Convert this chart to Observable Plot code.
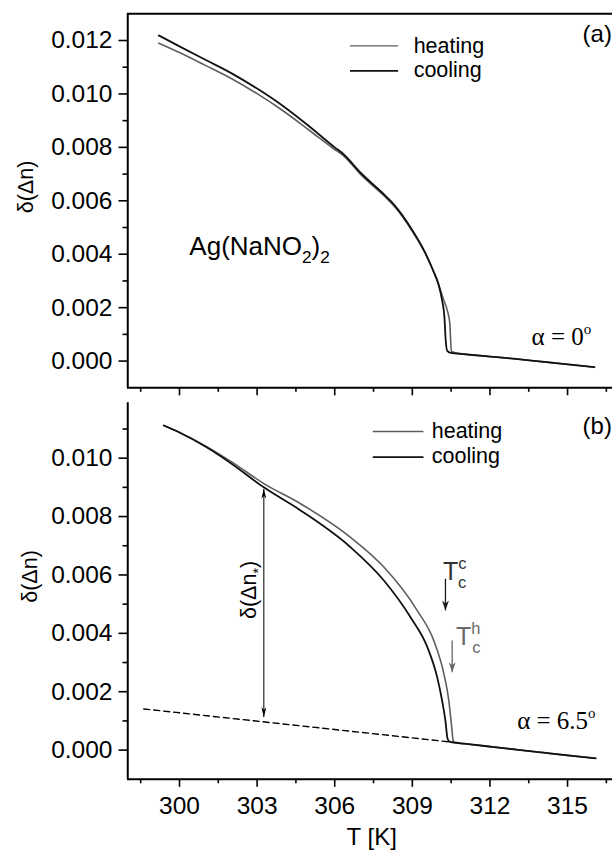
<!DOCTYPE html>
<html><head><meta charset="utf-8">
<script src="https://cdn.jsdelivr.net/npm/d3@7"></script>
<script src="https://cdn.jsdelivr.net/npm/@observablehq/plot@0.6"></script>
<style>
html,body{margin:0;padding:0;background:#fff;overflow:hidden}
#wrap{position:relative;width:612px;height:851px;background:#fff}
#wrap svg{position:absolute;left:0}
</style></head><body><div id="wrap"></div>
<script>
// ---------- data ----------
const xDomain = [298, 317];
const xMajor = [300, 303, 306, 309, 312, 315];
const xMinor = [298.5, 301.5, 304.5, 307.5, 310.5, 313.5, 316.5];

const yDomainA = [-0.001, 0.013];
const yMajorA = [0, 0.002, 0.004, 0.006, 0.008, 0.010, 0.012];
const yMinorA = [0.001, 0.003, 0.005, 0.007, 0.009, 0.011];
const yDomainB = [-0.001, 0.0119];
const yMajorB = [0, 0.002, 0.004, 0.006, 0.008, 0.010];
const yMinorB = [0.001, 0.003, 0.005, 0.007, 0.009, 0.011];

// panel (a), alpha = 0
const coolA_T = [299.2, 300.0, 301.0, 302.0, 303.0, 304.0, 305.0, 306.0, 306.3, 307.0, 308.0, 308.3, 309.0, 309.5, 309.8, 310.0, 310.15, 310.24, 310.29, 310.35, 310.48, 311.0, 312.0, 313.0, 314.0, 315.0, 316.04];
const coolA_v = [0.01219, 0.01178, 0.01128, 0.01078, 0.01020, 0.00955, 0.00880, 0.00800, 0.00778, 0.00705, 0.00615, 0.00585, 0.00490, 0.00405, 0.00340, 0.00290, 0.00228, 0.00165, 0.00078, 0.00038, 0.00031, 0.00026, 0.00017, 0.00008, -0.00002, -0.00012, -0.00023];
const heatA_T = [299.2, 300.0, 301.0, 302.0, 303.0, 304.0, 305.0, 306.0, 306.3, 307.0, 308.0, 308.3, 309.0, 309.5, 309.8, 310.0, 310.2, 310.35, 310.45, 310.48, 310.51, 311.0, 312.0, 313.0, 314.0, 315.0, 316.04];
const heatA_v = [0.01190, 0.01155, 0.01107, 0.01058, 0.01001, 0.00937, 0.00865, 0.00792, 0.00772, 0.00699, 0.00610, 0.00580, 0.00486, 0.00403, 0.00340, 0.00292, 0.00232, 0.00190, 0.00140, 0.00078, 0.00036, 0.00026, 0.00017, 0.00008, -0.00002, -0.00012, -0.00023];

// panel (b), alpha = 6.5
const coolB_T = [299.39, 300.0, 301.0, 302.0, 303.26, 304.68, 306.61, 307.9, 308.93, 309.58, 309.96, 310.15, 310.28, 310.36, 310.45, 310.6, 311.0, 312.0, 313.0, 314.0, 315.0, 316.09];
const coolB_v = [0.01112, 0.01088, 0.01040, 0.00982, 0.00900, 0.00821, 0.00695, 0.00581, 0.00455, 0.00353, 0.00250, 0.00170, 0.00100, 0.00040, 0.00028, 0.00026, 0.00022, 0.00012, 0.00002, -0.00008, -0.00018, -0.00028];
const heatB_T = [299.39, 300.0, 301.0, 302.0, 303.26, 304.68, 306.61, 307.9, 309.19, 309.83, 310.22, 310.41, 310.52, 310.58, 310.62, 311.0, 312.0, 313.0, 314.0, 315.0, 316.09];
const heatB_v = [0.01112, 0.01088, 0.01042, 0.00988, 0.00913, 0.00844, 0.00729, 0.00627, 0.00478, 0.00375, 0.00261, 0.00170, 0.00080, 0.00032, 0.00026, 0.00022, 0.00012, 0.00002, -0.00008, -0.00018, -0.00028];

// dashed baseline in (b)
const dash_T = [298.62, 310.55];
const dash_v = [0.00141, 0.00027];

// annotation arrows in (b): [T, vFrom, vTo]
const dblArrow = [303.26, 0.00113, 0.00895];
const tccArrow = [310.28, 0.005868, 0.004783];
const tchArrow = [310.54, 0.003755, 0.002669];

// legend
const seriesNames = ["heating", "cooling"];
const seriesColors = ["#5e5e5e", "#111111"];
const legendA = {T1: 306.61, T2: 308.47, Ttext: 309.07, vLine: [0.011801, 0.010864], vText: [0.011527, 0.010601]};
const legendB = {T1: 307.49, T2: 309.45, Ttext: 309.77, vLine: [0.010915, 0.010034], vText: [0.010675, 0.009808]};

// ---------- helpers ----------
const FONT = '"Liberation Sans", Arial, Helvetica, sans-serif';
const SERIF = '"Liberation Serif", "Times New Roman", serif';
const rows = (T, v) => T.map((t, i) => ({T: t, v: v[i]}));

function head(w, l) {
  return (color) => {
    const m = d3.create("svg:marker")
      .attr("viewBox", `${-l} ${-w / 2} ${l} ${w}`)
      .attr("markerWidth", l).attr("markerHeight", w)
      .attr("markerUnits", "userSpaceOnUse")
      .attr("orient", "auto-start-reverse")
      .attr("fill", color).attr("stroke", "none");
    m.append("path").attr("d", `M${-l},${-w / 2}L0,0L${-l},${w / 2}L${-l * 0.7},0Z`);
    return m.node();
  };
}

function richText(svg, x, y, parts, o) {
  const {size, family = FONT, fill = "#000", anchor = "start", rotate = 0, sub = 0.66} = o;
  const t = d3.select(svg).append("text")
    .attr("x", x).attr("y", y)
    .attr("font-family", family).attr("font-size", size)
    .attr("fill", fill).attr("text-anchor", anchor);
  if (rotate) t.attr("transform", `rotate(${rotate} ${x} ${y})`);
  let cur = 0;
  for (const [s, kind = "n", back = 0] of parts) {
    const off = kind === "sub" ? size * 0.33 : kind === "sup" ? -size * 0.45 : 0;
    const ts = t.append("tspan").text(s).attr("dy", off - cur);
    if (back) ts.attr("dx", back);
    if (kind !== "n") ts.attr("font-size", size * sub);
    cur = off;
  }
  return t;
}

const TICK_FONT = 24.5;

function panel({height, marginTop, marginBottom, yDomain, yMajor, yMinor, heat, cool, xLabels, topBorder, extra = []}) {
  return Plot.plot({
    width: 612, height, marginLeft: 127, marginRight: 0, marginTop, marginBottom,
    style: {fontFamily: FONT, background: "white", color: "#000"},
    x: {domain: xDomain, range: [127.25, 618.8]},
    y: {domain: yDomain, range: [height - marginBottom, marginTop]},
    marks: [
      Plot.axisX(xMajor, {tickSize: 8, tickPadding: 9, fontSize: TICK_FONT, strokeWidth: 1.6, label: null,
        tickFormat: xLabels ? (d => String(d)) : (() => "")}),
      Plot.axisX(xMinor, {tickSize: 4.5, strokeWidth: 1.6, label: null, tickFormat: () => ""}),
      Plot.axisY(yMajor, {tickSize: 8.5, tickPadding: 6.5, fontSize: TICK_FONT, strokeWidth: 1.6, label: null,
        tickFormat: d3.format(".3f")}),
      Plot.axisY(yMinor, {tickSize: 4.5, strokeWidth: 1.6, label: null, tickFormat: () => ""}),
      Plot.ruleX([xDomain[0]], {stroke: "#000", strokeWidth: 2}),
      Plot.ruleY([yDomain[0]], {stroke: "#000", strokeWidth: 2}),
      topBorder ? Plot.ruleY([yDomain[1]], {stroke: "#000", strokeWidth: 2}) : null,
      ...extra,
      Plot.line(heat, {x: "T", y: "v", stroke: seriesColors[0], strokeWidth: 1.6, curve: "monotone-x"}),
      Plot.line(cool, {x: "T", y: "v", stroke: seriesColors[1], strokeWidth: 1.8, curve: "monotone-x"})
    ]
  });
}

function legendMarks(L) {
  return seriesNames.map((name, i) =>
    Plot.ruleY([L.vLine[i]], {x1: L.T1, x2: L.T2, stroke: seriesColors[i], strokeWidth: i ? 1.8 : 1.4})
  );
}

function legendText(svg, sx, sy, L) {
  seriesNames.forEach((name, i) => {
    richText(svg, sx.apply(L.Ttext), sy.apply(L.vText[i]), [[name]], {size: 21.5});
  });
}

const wrap = document.getElementById("wrap");

// ---------- panel (a) ----------
const hA = 398;
const chartA = panel({
  height: hA, marginTop: 13.3, marginBottom: hA - 387.3,
  yDomain: yDomainA, yMajor: yMajorA, yMinor: yMinorA,
  heat: rows(heatA_T, heatA_v), cool: rows(coolA_T, coolA_v),
  xLabels: false, topBorder: true, extra: legendMarks(legendA)
});
chartA.style.top = "0px";
wrap.appendChild(chartA);
{
  const sx = chartA.scale("x"), sy = chartA.scale("y");
  legendText(chartA, sx, sy, legendA);
  richText(chartA, sx.apply(315.6), sy.apply(0.011925), [["(a)"]], {size: 24});
  richText(chartA, sx.apply(300.40), sy.apply(0.003964), [["Ag(NaNO"], ["2", "sub"], [")"], ["2", "sub"]], {size: 26});
  richText(chartA, sx.apply(313.63), sy.apply(0.000589), [["α = 0"], ["o", "sup"]], {size: 25, family: SERIF, sub: 0.6});
  richText(chartA, 32.5, 187, [["δ(Δn)"]], {size: 21.5, anchor: "middle", rotate: -90});
}

// ---------- panel (b) ----------
const topB = 398, hB = 453;
const dashMark = Plot.line(rows(dash_T, dash_v), {x: "T", y: "v", stroke: "#000", strokeWidth: 1.4, strokeDasharray: "6,4"});
const arrowMarks = [
  Plot.link([dblArrow], {x1: d => d[0], x2: d => d[0], y1: d => d[1], y2: d => d[2], stroke: "#000", strokeWidth: 1,
    markerStart: head(5, 10), markerEnd: head(5, 10)}),
  Plot.link([tccArrow], {x1: d => d[0], x2: d => d[0], y1: d => d[1], y2: d => d[2], stroke: "#1a1a1a", strokeWidth: 1.3,
    markerEnd: head(7, 10)}),
  Plot.link([tchArrow], {x1: d => d[0], x2: d => d[0], y1: d => d[1], y2: d => d[2], stroke: "#666", strokeWidth: 1.3,
    markerEnd: head(7, 10)})
];
const chartB = panel({
  height: hB, marginTop: 402.2 - topB, marginBottom: hB - (778.8 - topB),
  yDomain: yDomainB, yMajor: yMajorB, yMinor: yMinorB,
  heat: rows(heatB_T, heatB_v), cool: rows(coolB_T, coolB_v),
  xLabels: true, topBorder: false, extra: [dashMark, ...arrowMarks, ...legendMarks(legendB)]
});
chartB.style.top = topB + "px";
wrap.appendChild(chartB);
{
  const sx = chartB.scale("x"), sy = chartB.scale("y");
  legendText(chartB, sx, sy, legendB);
  richText(chartB, sx.apply(315.6), sy.apply(0.010812), [["(b)"]], {size: 24});
  richText(chartB, sx.apply(313.07), sy.apply(0.000706), [["α = 6.5"], ["o", "sup"]], {size: 25, family: SERIF, sub: 0.6});
  richText(chartB, sx.apply(310.2), sy.apply(0.00581), [["T"], ["c", "sup"], ["c", "sub", -8.3]], {size: 25, fill: "#333"});
  richText(chartB, sx.apply(310.71), sy.apply(0.003583), [["T"], ["h", "sup"], ["c", "sub", -8.3]], {size: 25, fill: "#6a6a6a"});
  richText(chartB, sx.apply(302.96), sy.apply(0.005468), [["δ(Δn"], ["*", "sub"], [")"]], {size: 21.5, anchor: "middle", rotate: -90});
  richText(chartB, 37.3, 178.5, [["δ(Δn)"]], {size: 21.5, anchor: "middle", rotate: -90});
  richText(chartB, 371.7, 447, [["T [K]"]], {size: 24, anchor: "middle"});
}
</script>
</body></html>
